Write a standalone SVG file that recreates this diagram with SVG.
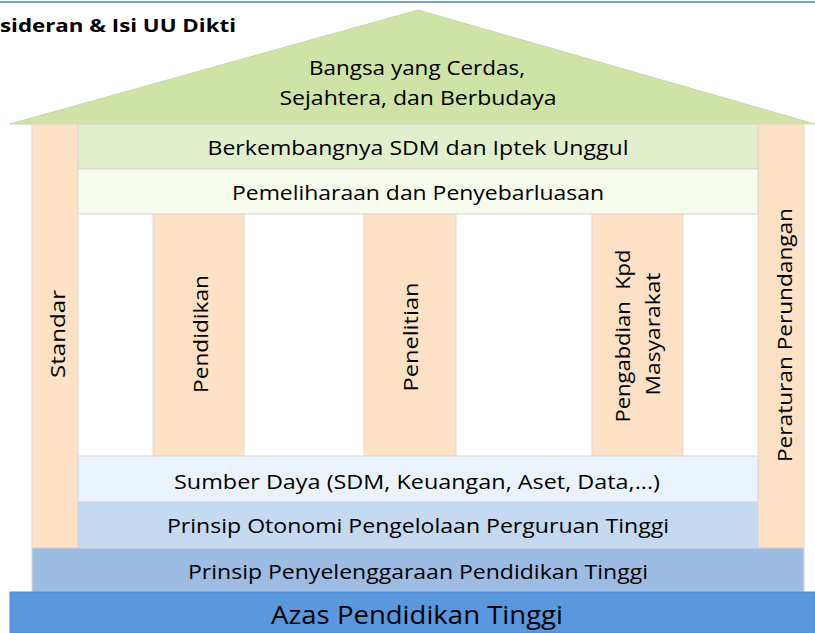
<svg xmlns="http://www.w3.org/2000/svg" width="815" height="633" viewBox="0 0 815 633">
<style>
.t{font-family:"Open Sans","Noto Sans","Liberation Sans",sans-serif;fill:#000;text-anchor:middle;dominant-baseline:central}
.band{stroke:#D6D6D6;stroke-width:1}
.pillar{fill:#FCE1C4;stroke:#E3D8CC;stroke-width:1}
</style>
<rect width="815" height="633" fill="#fff"/>
<line x1="0" y1="2" x2="815" y2="2" stroke="#4A7EBB" stroke-width="1.5"/>
<g id="title"><text x="0" y="25" font-family="Open Sans,Liberation Sans,sans-serif" font-weight="bold" font-size="18" dominant-baseline="central" textLength="236" lengthAdjust="spacingAndGlyphs">sideran &amp; Isi UU Dikti</text></g>
<g id="roof">
<polygon points="418,10 815,124 10,124" fill="#D0E3A6" stroke="#C6D6A8" stroke-width="1"/>
<text class="t" x="417" y="67" font-size="20" textLength="216" lengthAdjust="spacingAndGlyphs">Bangsa yang Cerdas,</text>
<text class="t" x="418" y="97" font-size="20" textLength="277" lengthAdjust="spacingAndGlyphs">Sejahtera, dan Berbudaya</text>
</g>
<g id="standar">
<rect class="pillar" x="32" y="124" width="46" height="424"/>
<text class="t" font-size="20" transform="translate(57,334) rotate(-90)" textLength="88" lengthAdjust="spacingAndGlyphs">Standar</text>
</g>
<g id="peraturan">
<rect class="pillar" x="758" y="124" width="46" height="424"/>
<text class="t" font-size="20" transform="translate(784,335) rotate(-90)" textLength="254" lengthAdjust="spacingAndGlyphs">Peraturan Perundangan</text>
</g>
<g id="berkembang">
<rect class="band" x="78" y="124" width="680" height="45" fill="#E2EFCC"/>
<text class="t" x="418" y="147" font-size="20" textLength="421" lengthAdjust="spacingAndGlyphs">Berkembangnya SDM dan Iptek Unggul</text>
</g>
<g id="pemeliharaan">
<rect class="band" x="78" y="169" width="680" height="45" fill="#F7FBEC"/>
<text class="t" x="418" y="192" font-size="20" textLength="372" lengthAdjust="spacingAndGlyphs">Pemeliharaan dan Penyebarluasan</text>
</g>
<g id="pendidikan">
<rect class="pillar" x="153" y="214" width="91" height="242"/>
<text class="t" font-size="20" transform="translate(200,334) rotate(-90)" textLength="118" lengthAdjust="spacingAndGlyphs">Pendidikan</text>
</g>
<g id="penelitian">
<rect class="pillar" x="364" y="214" width="92" height="242"/>
<text class="t" font-size="20" transform="translate(410,337) rotate(-90)" textLength="109" lengthAdjust="spacingAndGlyphs">Penelitian</text>
</g>
<g id="pengabdian">
<rect class="pillar" x="592" y="214" width="91" height="242"/>
<text class="t" font-size="20" transform="translate(622,336) rotate(-90)" textLength="173" lengthAdjust="spacingAndGlyphs" xml:space="preserve">Pengabdian  Kpd</text>
<text class="t" font-size="20" transform="translate(652,334) rotate(-90)" textLength="123" lengthAdjust="spacingAndGlyphs">Masyarakat</text>
</g>
<g id="sumberdaya">
<rect class="band" x="78" y="456" width="680" height="46" fill="#EAF2FC"/>
<text class="t" x="417" y="481" font-size="20" textLength="486" lengthAdjust="spacingAndGlyphs">Sumber Daya (SDM, Keuangan, Aset, Data,...)</text>
</g>
<g id="otonomi">
<rect class="band" x="78" y="502" width="680" height="46" fill="#C5D9F1"/>
<text class="t" x="418" y="525" font-size="20" textLength="502" lengthAdjust="spacingAndGlyphs">Prinsip Otonomi Pengelolaan Perguruan Tinggi</text>
</g>
<g id="penyelenggaraan">
<rect class="band" x="32" y="548" width="772" height="44" fill="#9DBCE3"/>
<text class="t" x="418" y="571" font-size="20" textLength="460" lengthAdjust="spacingAndGlyphs">Prinsip Penyelenggaraan Pendidikan Tinggi</text>
</g>
<g id="azas">
<rect x="10" y="592" width="805" height="41" fill="#5B97DD" stroke="#5089CF" stroke-width="1"/>
<text class="t" x="417" y="614" font-size="26" textLength="292" lengthAdjust="spacingAndGlyphs">Azas Pendidikan Tinggi</text>
</g>
<g id="connectors"/>
</svg>
